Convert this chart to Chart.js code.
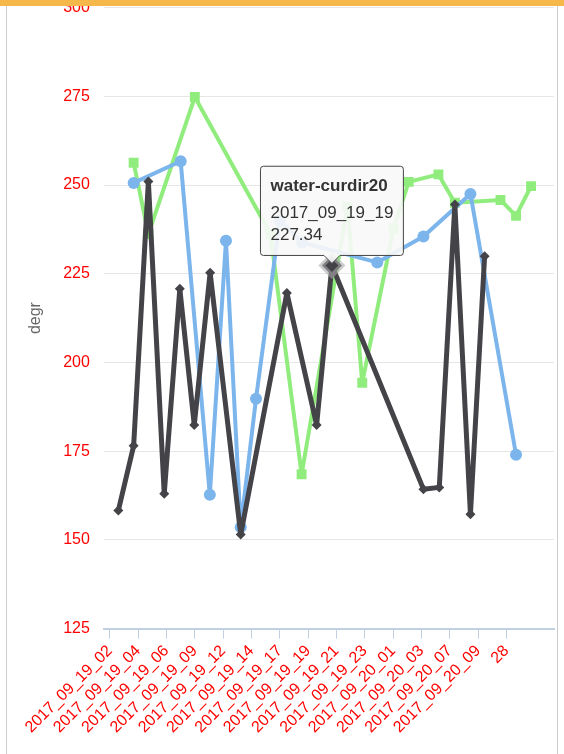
<!DOCTYPE html>
<html>
<head>
<meta charset="utf-8">
<script src="https://cdn.jsdelivr.net/npm/chart.js@4"></script>
<style>
  html, body { margin: 0; padding: 0; background: #fff; overflow: hidden; }
  #wrap { position: relative; width: 564px; height: 754px; border-top: 6px solid #f7b84b; box-sizing: border-box; overflow: hidden; }
  #frame { position: absolute; left: 6px; right: 6px; top: 0; bottom: 0; border-left: 1px solid #ccc; border-right: 1px solid #ccc; }
  canvas { position: absolute; left: 0; top: -22px; }
</style>
</head>
<body>
<div id="wrap">
  <div id="frame"></div>
  <canvas id="chart" width="564" height="770"></canvas>
</div>
<script>
// tick labels along the time axis
const tickLabels = ['2017_09_19_02', '2017_09_19_04', '2017_09_19_06', '2017_09_19_09', '2017_09_19_12',
  '2017_09_19_14', '2017_09_19_17', '2017_09_19_19', '2017_09_19_21', '2017_09_19_23',
  '2017_09_20_01', '2017_09_20_03', '2017_09_20_07', '2017_09_20_09', '28'];

// series (x in tick units, y in degrees)
const darkX = [0.30, 0.84, 1.36, 1.92, 2.47, 2.98, 3.54, 4.62, 6.25, 7.30, 7.84, 11.07, 11.63, 12.18, 12.73, 13.23];
const darkY = [158.3, 176.5, 251.0, 163.0, 220.8, 182.4, 225.3, 151.5, 219.6, 182.4, 227.34, 164.3, 164.8, 244.5, 157.2, 229.9];

const blueX = [0.84, 2.50, 3.53, 4.10, 4.62, 5.16, 6.00, 6.79, 9.44, 11.07, 12.73, 14.34];
const blueY = [250.6, 256.7, 162.7, 234.3, 153.6, 189.8, 240.0, 233.8, 228.2, 235.5, 247.5, 174.0];

const greenX = [0.84, 1.36, 3.00, 5.67, 6.77, 8.39, 8.91, 10.02, 10.55, 11.60, 12.18, 13.79, 14.34, 14.87];
const greenY = [256.3, 236.2, 274.8, 236.2, 168.5, 243.9, 194.3, 237.8, 250.9, 253.0, 245.0, 245.8, 241.3, 249.7];

const toPoints = (xs, ys) => xs.map((x, i) => ({ x: x, y: ys[i] }));

const ctx = document.getElementById('chart');
const chart = new Chart(ctx, {
    type: 'line',
    data: {
        datasets: [{
            label: 'water-curdir20',
            data: toPoints(darkX, darkY),
            borderColor: '#434348',
            backgroundColor: '#434348',
            borderWidth: 5,
            borderJoinStyle: 'round',
            pointStyle: 'rectRot',
            pointRadius: 5,
            pointBorderWidth: 0,
            pointHoverRadius: 10,
            pointHoverBorderWidth: 5,
            pointHoverBackgroundColor: '#434348',
            pointHoverBorderColor: 'rgba(170,170,170,0.6)'
        }, {
            label: 'blue',
            data: toPoints(blueX, blueY),
            borderColor: '#7cb5ec',
            backgroundColor: '#7cb5ec',
            borderWidth: 4,
            borderJoinStyle: 'round',
            pointStyle: 'circle',
            pointRadius: 6,
            pointBorderWidth: 0
        }, {
            label: 'green',
            data: toPoints(greenX, greenY),
            borderColor: '#90ed7d',
            backgroundColor: '#90ed7d',
            borderWidth: 4,
            borderJoinStyle: 'round',
            pointStyle: 'rect',
            pointRadius: 7,
            pointBorderWidth: 0
        }]
    },
    options: {
        responsive: false,
        animation: false,
        layout: { padding: { left: 22, right: 8, top: 0, bottom: 14 } },
        plugins: {
            legend: { display: false },
            tooltip: {
                backgroundColor: 'rgba(248,248,248,0.9)',
                borderColor: '#444',
                borderWidth: 1,
                titleColor: '#333',
                bodyColor: '#333',
                titleFont: { family: "'Liberation Sans', Arial", size: 17, weight: 'bold' },
                bodyFont: { family: "'Liberation Sans', Arial", size: 17 },
                displayColors: false,
                cornerRadius: 3,
                padding: 10,
                caretSize: 8,
                yAlign: 'bottom',
                callbacks: {
                    title: items => items[0].dataset.label,
                    label: item => [tickLabels[7], item.parsed.y.toFixed(2)]
                }
            }
        },
        scales: {
            x: {
                type: 'linear',
                min: -0.21,
                max: 15.68,
                afterBuildTicks: axis => { axis.ticks = tickLabels.map((t, i) => ({ value: i })); },
                ticks: {
                    autoSkip: false,
                    maxRotation: 45,
                    minRotation: 45,
                    color: '#ff0000',
                    font: { family: "'Liberation Sans', Arial", size: 16 },
                    callback: value => tickLabels[value]
                },
                grid: { drawOnChartArea: false, color: '#c0d0e0', tickLength: 10 },
                border: { color: '#c0d0e0', width: 2 }
            },
            y: {
                min: 125,
                max: 300,
                ticks: {
                    stepSize: 25,
                    color: '#ff0000',
                    padding: 14,
                    font: { family: "'Liberation Sans', Arial", size: 16 }
                },
                grid: { color: '#e6e6e6', drawTicks: false },
                border: { display: false },
                title: {
                    display: true,
                    text: 'degr',
                    color: '#666',
                    font: { family: "'Liberation Sans', Arial", size: 16 }
                }
            }
        }
    }
});

const active = [{ datasetIndex: 0, index: 10 }];
chart.setActiveElements(active);
chart.tooltip.setActiveElements(active, { x: 0, y: 0 });
chart.update();
</script>
</body>
</html>
